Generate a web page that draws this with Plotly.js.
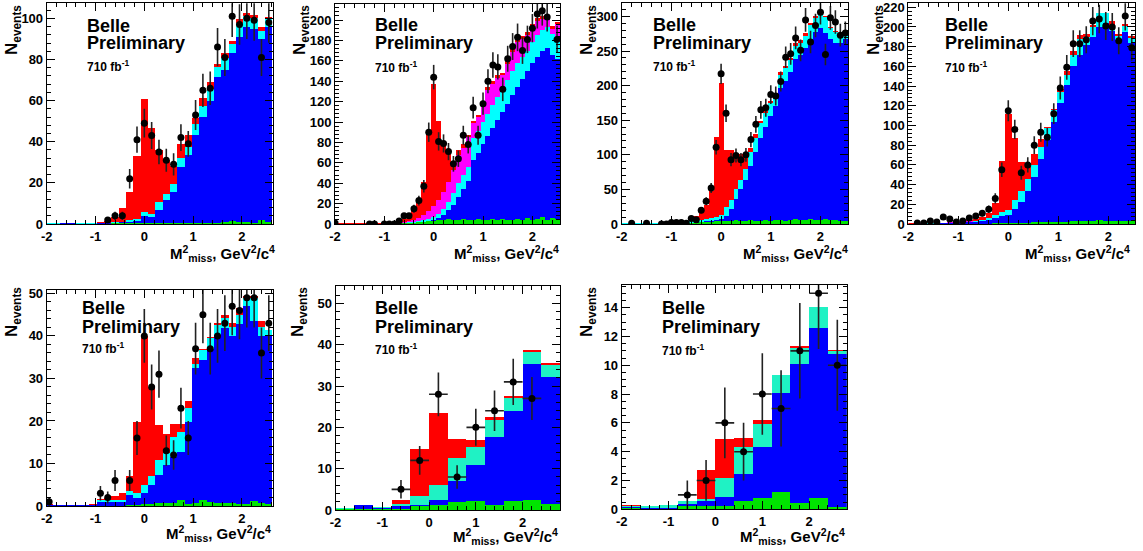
<!DOCTYPE html>
<html><head><meta charset="utf-8">
<script src="https://cdn.plot.ly/plotly-3.0.1.min.js"></script>
<style>html,body{margin:0;padding:0;background:#fff}#chart{width:1143px;height:551px}</style>
</head><body><div id="chart"></div>
<script>
// ---------- Panel 1 (bins 0.15) ----------
const p1_bins = [-1.95,-1.8,-1.65,-1.5,-1.35,-1.2,-1.05,-0.9,-0.75,-0.6,-0.45,-0.3,-0.15,0,0.15,0.3,0.45,0.6,0.75,0.9,1.05,1.2,1.35,1.5,1.65,1.8,1.95,2.1,2.25,2.4,2.55];
const p1_red   = [0.3,0.3,0.6,0.6,0.3,0.3,0.6,0.8,1.5,3.6,7.6,15.4,33,60.6,46.5,36,31,28,39,43.5,51.6,61.4,69,77.8,83,89,99.5,102.4,101.6,96,100.8];
const p1_cyan  = [0.25,0.25,0.55,0.55,0.25,0.25,0.25,0.35,0.6,0.8,1.2,1.8,2.5,6,5,10.9,14.6,19.4,32,37.5,48.5,57.5,65.5,76.3,80.5,87.5,97.5,101,100,94,99.5];
const p1_blue  = [0.2,0.2,0.5,0.5,0.2,0.2,0.2,0.3,0.5,0.6,0.8,1,1.5,4,3.5,6.8,11.7,15.7,27.9,33.5,43.5,52,60,71.3,75,83,91,96,95,90,96];
const p1_green = [0.15,0.15,0.15,0.15,0.15,0.15,0.2,0.2,0.2,0.3,0.3,0.3,0.4,0.5,0.5,0.5,0.5,0.5,0.6,0.6,0.6,0.7,0.6,0.7,0.8,1.3,0.9,0.9,0.7,1.8,0.9];
const p1_dx = [-0.75,-0.6,-0.45,-0.3,-0.15,0,0.15,0.3,0.45,0.6,0.75,0.9,1.05,1.2,1.35,1.5,1.65,1.8,1.95,2.1,2.25,2.4,2.55];
const p1_dy = [2,4,4,22,41,49,43,35,31,29,42,39,53,65,66,86,81,101,97,100,99,81,98];

// ---------- Panel 2 (bins 0.1) ----------
const p2_bins = [-2.0,-1.9,-1.8,-1.7,-1.6,-1.5,-1.4,-1.3,-1.2,-1.1,-1.0,-0.9,-0.8,-0.7,-0.6,-0.5,-0.4,-0.3,-0.2,-0.1,0,0.1,0.2,0.3,0.4,0.5,0.6,0.7,0.8,0.9,1.0,1.1,1.2,1.3,1.4,1.5,1.6,1.7,1.8,1.9,2.0,2.1,2.2,2.3,2.4,2.5];
const p2_red     = [0.5,0.5,0.5,0.5,0.5,0.5,0.5,0.5,0.5,0.5,0.5,0.8,1.2,3,5,8,14,23,41,90,137,101,80,72,60,73,78,87,101,107,118,134,140,146,148,160,172,181,184,188,196,202,204,204,194,198];
const p2_magenta = [0.4,0.4,0.4,0.4,0.4,0.4,0.4,0.4,0.4,0.4,0.4,0.5,0.7,1,1.5,2.5,4,6,9,13,18,24,31,41,53,68,75,85,99,105,116,131,137,143,146,157,169,178,181,185,193,199,201,201,191,196];
const p2_cyan    = [0.3,0.3,0.3,0.3,0.3,0.3,0.3,0.3,0.3,0.3,0.3,0.4,0.5,0.7,1,1.5,2,3,4,5,7,10,15,22,30,40,48,56,84,91,100,108,117,125,132,141,150,158,164,170,178,185,190,193,186,180];
const p2_blue    = [0.2,0.2,0.2,0.2,0.2,0.2,0.2,0.2,0.2,0.2,0.2,0.3,0.3,0.4,0.5,0.8,1,1.5,2,3,4,6,9,13.7,19,26,34,42,63,70,78,86,94,102,110,118,126,134,142,150,158,164,170,173,166,162];
const p2_green   = [0.3,0.3,0.3,0.3,0.3,0.3,0.3,0.3,0.3,0.3,0.3,0.4,0.5,0.6,0.8,1,1.2,1.5,2,2.5,3,4,4,5,4,4,5,4,4,5,4,4,5,4,5,4,4,5,4,6,4,5,7,4,6,5];
const p2_dx = [-2.0,-1.3,-1.2,-1.0,-0.9,-0.8,-0.7,-0.6,-0.5,-0.4,-0.3,-0.2,-0.1,0,0.1,0.2,0.3,0.4,0.5,0.6,0.7,0.8,0.9,1.0,1.1,1.2,1.3,1.4,1.5,1.6,1.7,1.8,1.9,2.0,2.1,2.2,2.3,2.5];
const p2_dy = [1,0,0,0,0,0,3,8,8,15,23,37,90,144,81,79,71,59,64,87,78,114,87,118,140,156,154,132,162,174,183,170,181,192,206,209,203,181];

// ---------- Panel 3 (bins 0.1) ----------
const p3_bins = [-2.0,-1.9,-1.8,-1.7,-1.6,-1.5,-1.4,-1.3,-1.2,-1.1,-1.0,-0.9,-0.8,-0.7,-0.6,-0.5,-0.4,-0.3,-0.2,-0.1,0,0.1,0.2,0.3,0.4,0.5,0.6,0.7,0.8,0.9,1.0,1.1,1.2,1.3,1.4,1.5,1.6,1.7,1.8,1.9,2.0,2.1,2.2,2.3,2.4,2.5];
const p3_red   = [1,1,1,1,1,1,1,1,1,1.2,1.5,1.8,2,3,10,11,16,28,48,126,204,107,107,101,101,103,110,130,149,163,178,190,220,229,240,262,266,276,290,300,307,300,285,279,276,280];
const p3_cyan  = [0.8,0.8,0.8,0.8,0.8,0.8,0.8,0.8,0.8,0.8,0.8,0.8,1.2,2,4,5,6,7,8,10,13,25,35,50,64,80,104,125,146,160,175,187,216,226,237,258,262,272,287,298,306,299,284,278,275,279];
const p3_blue  = [0.5,0.5,0.5,0.5,0.5,0.5,0.5,0.5,0.5,0.5,0.5,0.5,0.8,1,2,2.5,3,4,5,6,7,12,22,36,50,64,84,104,124,140,156,170,196,207,219,238,244,254,268,278,283,276,268,262,262,268];
const p3_green = [0.5,0.5,0.5,0.5,0.5,0.5,0.5,0.5,0.5,0.5,0.5,0.5,0.7,1,1.5,2,2.5,3,3.5,4,4,5,5,6,5,5,6,5,5,6,5,6,6,5,6,7,6,6,7,6,6,7,6,6,5,5];
const p3_dx = [-1.8,-1.5,-1.2,-1.1,-1.0,-0.9,-0.8,-0.7,-0.6,-0.5,-0.4,-0.3,-0.2,-0.1,0,0.1,0.2,0.3,0.4,0.5,0.6,0.7,0.8,0.9,1.0,1.1,1.2,1.3,1.4,1.5,1.6,1.7,1.8,1.9,2.0,2.1,2.2,2.3,2.4,2.5];
const p3_dy = [1,1,0,0,2,2,2,1,8,6,20,33,52,111,217,160,93,99,93,100,122,144,165,168,187,185,206,241,246,269,251,295,263,287,306,245,298,292,273,276];

// ---------- Panel 4 (bins 0.13) ----------
const p4_bins = [-1.95,-1.82,-1.69,-1.56,-1.43,-1.3,-1.17,-1.04,-0.91,-0.78,-0.65,-0.52,-0.39,-0.26,-0.13,0,0.13,0.26,0.39,0.52,0.65,0.78,0.91,1.04,1.17,1.3,1.43,1.56,1.69,1.82,1.95,2.08,2.21,2.34,2.47];
const p4_red     = [1,1,1,1.2,1.5,1.5,2,2.5,3,4,5,7,11,21,64,112,87,63,62,71,86,98,117,137,155,176,192,193,202,214,214,206,193,203,191];
const p4_magenta = [0.5,0.8,1,1.2,1.3,1.5,1.7,2,2.5,3,3.5,4.5,6.5,9.5,12.5,14,24,33,46,60,78,97,116,134,151,172,188,190,200,214,214,202,191,201,189];
const p4_cyan    = [0.5,0.5,0.5,0.7,0.8,1,1.2,1.5,2,2.5,3,4,6,9,12,14,24,33,46,60,78,97,116,134,151,172,188,190,200,214,214,202,191,201,189];
const p4_blue    = [0.3,0.3,0.3,0.4,0.5,0.6,0.8,1,1.3,1.6,2,3,4,6,8,9,15,22,33,48,66,85,104,123,141,160,172,182,190,200,204,196,187,195,184];
const p4_green   = [0.3,0.3,0.3,0.3,0.3,0.3,0.3,0.3,0.3,0.3,0.3,0.5,0.5,0.7,0.8,1,1.2,1.3,1.5,1.7,2,2,2,2.5,2.5,3,3,3,3.5,4,3.5,3,3,3,3.5];
const p4_dx = [-1.82,-1.69,-1.56,-1.43,-1.3,-1.17,-1.04,-0.91,-0.78,-0.65,-0.52,-0.39,-0.26,-0.13,0,0.13,0.26,0.39,0.52,0.65,0.78,0.91,1.04,1.17,1.3,1.43,1.56,1.69,1.82,1.95,2.08,2.21,2.34,2.47];
const p4_dy = [1,1,3,2,7,5,2,3,6,8,11,15,26,55,115,96,52,60,80,93,88,112,138,159,183,183,187,206,208,201,200,186,211,179];

// ---------- Panel 5 (bins 0.15) ----------
const p5_bins = [-1.95,-1.8,-1.65,-1.5,-1.35,-1.2,-1.05,-0.9,-0.75,-0.6,-0.45,-0.3,-0.15,0,0.15,0.3,0.45,0.6,0.75,0.9,1.05,1.2,1.35,1.5,1.65,1.8,1.95,2.1,2.25,2.4,2.55];
const p5_red   = [0.5,0.3,0.3,0.3,0.3,0.3,0.4,1.6,2,2.3,3,7,19.8,40,28,19,17,19.2,19.3,24.7,34.7,37,39.7,43,45,43,46.5,49.5,49.3,43.6,41.5];
const p5_cyan  = [0.2,0.2,0.2,0.3,0.3,0.3,0.3,1.3,1.3,1.5,1.5,3.5,3,5,7,10.8,12.4,16.3,17.5,23.1,33.5,36.6,39.4,42.5,44.3,42,45,49,49,42,41.5];
const p5_blue  = [0.15,0.15,0.15,0.2,0.2,0.2,0.2,1,1,1,1,2.5,2,3,5,7.3,9.6,11.6,12.8,19.8,32.4,34.3,37,40.2,41.8,40,42.7,47,43.5,40,40];
const p5_green = [0.1,0.1,0.1,0.1,0.1,0.1,0.1,0.1,0.1,0.1,0.1,0.2,0.3,0.5,0.5,0.6,0.6,0.7,1.5,0.5,0.6,1.3,1,0.7,0.7,0.7,0.5,0.5,1.1,0.7,0.5];
const p5_dx = [-1.95,-0.9,-0.75,-0.6,-0.3,-0.15,0,0.15,0.3,0.45,0.6,0.75,0.9,1.05,1.2,1.35,1.5,1.65,1.8,1.95,2.1,2.25,2.4,2.55];
const p5_dy = [1,3,2,6,6,16,40,28,31,13,12,23,16,37,45,37,40,43,47,46,49,49,36,43];

// ---------- Panel 6 (bins 0.4) ----------
const p6_bins  = [-1.8,-1.4,-1.0,-0.6,-0.2,0.2,0.6,1.0,1.4,1.8,2.2,2.6];
const p6_red   = [0.5,1.3,0.8,2.3,14.8,23.4,17.2,16.9,22.6,27.6,38.6,35.5];
const p6_cyan  = [0.4,1.2,0.7,1.5,3.5,6,12.5,15.3,21.8,27.2,38.2,35.2];
const p6_blue  = [0.3,1.1,0.6,1.0,1.2,2.3,7,10.9,17.7,24,35.3,32.3];
const p6_green = [0.2,0.2,0.2,0.3,0.9,1.2,2,2.2,1.2,2.2,2.5,1.4];
const p6_dx = [-0.6,-0.2,0.2,0.6,1.0,1.4,1.8,2.2];
const p6_dy = [5,12,28,8,20,24,31,27];

// ---------- Panel 7 (bins 0.4) ----------
const p7_bins  = [-1.8,-1.4,-1.0,-0.6,-0.2,0.2,0.6,1.0,1.4,1.8,2.2,2.6];
const p7_red   = [0.3,0.2,0.3,0.6,2.7,4.85,4.95,6.2,9.3,11.35,14.05,11.05];
const p7_cyan  = [0.25,0.2,0.3,0.55,0.7,2.15,4.35,5.95,9.3,11.2,14.05,11];
const p7_blue  = [0.15,0.1,0.1,0.35,0.6,0.85,2.45,4.35,8.1,10.1,12.6,10.8];
const p7_green = [0.1,0.05,0.05,0.25,0.25,0.25,0.6,0.8,1.2,0.45,0.8,0.15];
const p7_dx = [-0.6,-0.2,0.2,0.6,1.0,1.4,1.8,2.2,2.6];
const p7_dy = [1,2,6,4,8,7,11,15,10];

const xTickVals = [-2,-1,0,1,2];
const xTickText = ['-2','-1','0','1','2'];

// ---------- layout helpers ----------
const W = 1143, H = 551;
const FONT = 'Liberation Sans, Arial, Helvetica, sans-serif';
const px = v => v / W;
const py = v => 1 - v / H;

const panels = [
  {red:p1_red, mag:null, cyan:p1_cyan, blue:p1_blue, green:p1_green, bins:p1_bins, dx:p1_dx, dy:p1_dy, w:0.15,
   xr:[-2,2.63], yr:[0,107.3], box:[46.7,272.7,3.3,224], yd:20, ym:4, teal:false, xe:0,
   tx:85, ty:[26,43,66], nx:13, ny:3, mx:277, my:253},
  {red:p2_red, mag:p2_magenta, cyan:p2_cyan, blue:p2_blue, green:p2_green, bins:p2_bins, dx:p2_dx, dy:p2_dy, w:0.1,
   xr:[-2,2.56], yr:[0,215.7], box:[335,560,4,224], yd:20, ym:4, teal:false, xe:0,
   tx:373, ty:[25,43,66.5], nx:301, ny:3, mx:561, my:253},
  {red:p3_red, mag:null, cyan:p3_cyan, blue:p3_blue, green:p3_green, bins:p3_bins, dx:p3_dx, dy:p3_dy, w:0.1,
   xr:[-2,2.56], yr:[0,319], box:[621.7,848.3,3.3,224], yd:50, ym:10, teal:false, xe:0,
   tx:651, ty:[25,42.7,65.7], nx:588, ny:3, mx:850, my:253},
  {red:p4_red, mag:p4_magenta, cyan:p4_cyan, blue:p4_blue, green:p4_green, bins:p4_bins, dx:p4_dx, dy:p4_dy, w:0.13,
   xr:[-2,2.535], yr:[0,224], box:[908.3,1135,3.3,224], yd:20, ym:4, teal:false, xe:0,
   tx:943, ty:[25,43.3,66.7], nx:875, ny:3, mx:1132, my:253},
  {red:p5_red, mag:null, cyan:p5_cyan, blue:p5_blue, green:p5_green, bins:p5_bins, dx:p5_dx, dy:p5_dy, w:0.15,
   xr:[-2,2.63], yr:[0,50.8], box:[46.7,272.7,290,506], yd:10, ym:2, teal:false, xe:0,
   tx:80, ty:[307.7,326.7,348.3], nx:13, ny:285, mx:273, my:533},
  {red:p6_red, mag:null, cyan:p6_cyan, blue:p6_blue, green:p6_green, bins:p6_bins, dx:p6_dx, dy:p6_dy, w:0.4,
   xr:[-2,2.8], yr:[0,54.2], box:[335.5,560,286,510], yd:10, ym:2, teal:true, xe:0.2,
   tx:373, ty:[308.3,326.7,349], nx:299, ny:285, mx:560, my:536},
  {red:p7_red, mag:null, cyan:p7_cyan, blue:p7_blue, green:p7_green, bins:p7_bins, dx:p7_dx, dy:p7_dy, w:0.4,
   xr:[-2,2.8], yr:[0,15.57], box:[621.7,846.7,285,509.3], yd:2, ym:0.5, teal:true, xe:0.2,
   tx:660, ty:[308.3,326.7,350], nx:588, ny:285, mx:847, my:536}
];

const traces = [];
const layout = {
  width: W, height: H, margin:{l:0,r:0,t:0,b:0},
  paper_bgcolor:'#fff', plot_bgcolor:'#fff', showlegend:false,
  barmode:'overlay', bargap:0, annotations:[],
  font:{family:FONT, color:'#000'}
};

panels.forEach((p, i) => {
  const n = i === 0 ? '' : String(i + 1);
  const xa = 'x' + n, ya = 'y' + n;
  const stack = [
    [p.red, '#ff0000'],
    [p.mag, '#ff00ff'],
    [p.cyan, p.teal ? '#1ff2c4' : '#00ffff'],
    [p.blue, '#0000ff'],
    [p.green, '#00e400']
  ];
  stack.forEach(([vals, col]) => {
    if (!vals) return;
    traces.push({type:'bar', x:p.bins, y:vals, width:p.w, xaxis:xa, yaxis:ya,
      marker:{color:col, line:{width:0}}, hoverinfo:'skip'});
  });
  const pts = {type:'scatter', mode:'markers', x:p.dx, y:p.dy, xaxis:xa, yaxis:ya,
    marker:{color:'#000', size:7},
    error_y:{type:'sqrt', color:'#222', thickness:1.6, width:0},
    hoverinfo:'skip'};
  if (p.xe) pts.error_x = {type:'constant', value:p.xe, color:'#222', thickness:1.6, width:0};
  traces.push(pts);

  const [x0, x1, y0, y1] = p.box;
  const tickfont = {family:FONT, size:13, color:'#000', weight:'bold'};
  layout['xaxis' + n] = {
    domain:[px(x0), px(x1)], range:p.xr, anchor:ya,
    tickmode:'array', tickvals:xTickVals, ticktext:xTickText,
    ticks:'inside', ticklen:8, tickwidth:1, tickcolor:'#000',
    minor:{ticks:'inside', ticklen:4, tick0:-2, dtick:0.2, tickcolor:'#000', showgrid:false},
    showline:true, linecolor:'#000', linewidth:1, mirror:'allticks',
    showgrid:false, zeroline:false, tickfont, fixedrange:true, ticklabeloverflow:'allow'
  };
  layout['yaxis' + n] = {
    domain:[py(y1), py(y0)], range:p.yr, anchor:xa,
    tickmode:'linear', tick0:0, dtick:p.yd,
    ticks:'inside', ticklen:8, tickwidth:1, tickcolor:'#000',
    minor:{ticks:'inside', ticklen:4, tick0:0, dtick:p.ym, tickcolor:'#000', showgrid:false},
    showline:true, linecolor:'#000', linewidth:1, mirror:'allticks',
    showgrid:false, zeroline:false, tickfont, fixedrange:true, ticklabeloverflow:'allow'
  };

  const ann = (text, x, y, size, extra) => Object.assign({
    text, x:px(x), y:py(y), xref:'paper', yref:'paper', showarrow:false,
    xanchor:'left', yanchor:'middle',
    font:{family:FONT, size, color:'#000', weight:'bold'}
  }, extra || {});
  layout.annotations.push(ann('Belle', p.tx, p.ty[0], 18));
  layout.annotations.push(ann('Preliminary', p.tx, p.ty[1], 18));
  layout.annotations.push(ann('710 fb<sup>-1</sup>', p.tx, p.ty[2], 12));
  layout.annotations.push(ann('N<sub>events</sub>', p.nx, p.ny, 17,
    {textangle:-90, xanchor:'center', yanchor:'top'}));
  layout.annotations.push(ann('M<sup>2</sup><sub>miss</sub>, GeV<sup>2</sup>/c<sup>4</sup>', p.mx, p.my, 15,
    {xanchor:'right'}));
});

Plotly.newPlot('chart', traces, layout, {staticPlot:true, displayModeBar:false});
</script>
</body></html>
